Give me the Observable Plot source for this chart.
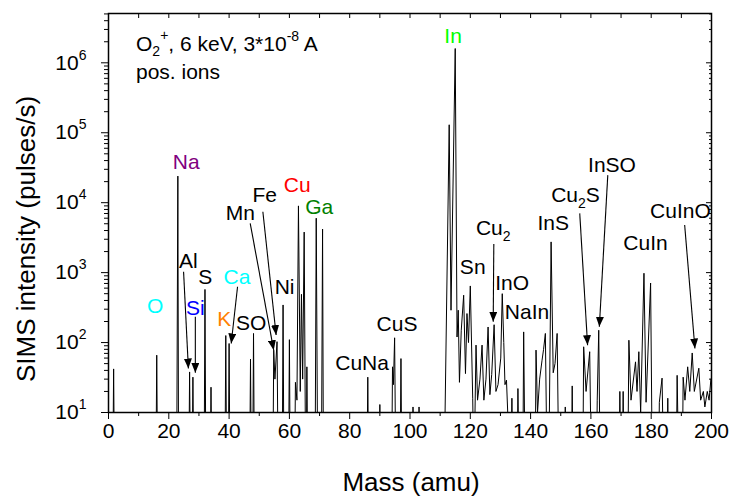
<!DOCTYPE html>
<html><head><meta charset="utf-8">
<script src="https://cdn.jsdelivr.net/npm/d3@7"></script>
<script src="https://cdn.jsdelivr.net/npm/@observablehq/plot@0.6"></script>
<style>
body{margin:0;background:#fff}
#chart svg{font-family:"Liberation Sans",Arial,sans-serif;background:#fff}
</style></head><body><div id="chart"></div>
<script>
// Spectrum trace (mass in amu, intensity in pulses/s; 1 = below the axis floor)
const mass = [
1.4,1.7,2.0, 15.7,16.0,16.3, 22.6,23.0,23.25, 26.6,26.9,27.2, 27.7,28.0,28.3,
31.7,32.0,32.3, 33.7,34.0,34.3, 38.6,38.9,39.2, 39.7,40.0,40.3, 46.8,47.1,47.4,
47.8,48.1,48.4, 54.5,54.8,55.2,55.9,56.3, 57.6,57.9,58.2, 59.7,60.0,60.3,
61.7,62.0,62.5,63.0,63.6,64.0,64.4,64.9,65.4,65.6,65.8,66.1,
68.5,68.9,69.4, 70.6,71.0,71.3, 85.7,86.0,86.3, 89.7,90.0,90.3,
93.9,94.2,94.5,94.9,95.3, 96.7,97.0,97.3, 100.7,101.0,101.3, 102.7,103.0,103.3,
111.3,113.0,113.6,115.0,115.6,116.0,116.4,117.0,117.8,118.4,118.9,119.4,120.0,120.8,121.2,
121.9,122.4,123.2,123.9,124.5,125.2,125.9,126.5,127.1,127.9,128.5,129.2,130.1,130.6,131.1,
131.5,132.0,132.5,133.4,133.8,134.2,135.5,135.8,136.2,137.4,137.7,138.2,141.5,141.8,142.3,
143.0,143.8,144.3,144.9,145.5,146.0,146.8,147.5,148.1,148.8,149.4,151.2,151.5,151.8,153.5,
153.8,154.1,157.3,157.6,158.4,159.6,160.2,161.8,162.1,162.6,163.1,169.3,169.6,170.0,170.4,
170.7,171.0,172.2,172.6,173.3,174.8,175.3,175.9,176.5,177.6,178.3,179.8,180.4,182.4,182.7,
183.6,184.2,185.2,185.5,185.8,188.3,188.6,189.2,190.3,190.6,191.2,192.1,192.8,193.6,194.3,
195.8,196.4,197.3,197.8,198.6,199.2,199.8
];
const counts = [
1,42,1, 1,66,1, 1,24000,1, 1,38,1, 1,32,1,
1,575,1, 1,23,1, 1,126,1, 1,97,1, 1,58,1,
1,135,1, 1,78,30,103,1, 1,345,1, 1,110,1,
1,27,15,9000,20,490,30,3800,1,1,45,1,
1,6000,1, 1,4200,1, 1,32,1, 1,13,1,
1,45,25,117,1, 1,59,1, 1,12,1, 1,12,1,
1,130000,290,1600000,120,290,27,150,475,36,260,100,645,16,1,
92,15,30,92,15,30,167,18,35,180,20,25,60,500,100,
25,29,8,1,16,1,1,22,1,1,142,1,1,78,10,
30,56,80,135,1,1,2750,37,50,135,1,1,12,1,1,
24,1,1,87,20,74,1,1,15,150,1,1,20,1,1,
20,1,1,108,15,53,20,74,10,980,14,710,1,1,14,
31,1,1,16,1,1,34,1,1,32,15,45,20,71,20,
43,15,20,12,20,15,30
];

// Peak labels (text, anchor mass, anchor intensity, colour)
const labels = ["O","Na","Al","S","Si","Ca","K","SO","Mn","Fe","Ni","Cu","Ga","In",
  "CuNa","CuS","Sn","Cu\u2082","InO","NaIn","InS","Cu\u2082S","InSO","CuInO","CuIn"];
const labelMass = [15.5,25.8,26.5,32.1,28.8,42.6,38.4,47.3,43.7,51.8,58.4,62.6,69.9,114.3,
  84.1,95.7,120.8,127.6,133.9,138.8,147.5,154.9,167.0,189.7,178.1];
const labelCounts = [332,38100,1430,871,308,871,214,191,7100,12850,614,17900,8650,2360000,
  51,181,1186,4290,700,275,5150,12850,34500,7650,2620];
const labelColors = ["#00FFFF","#800080","#000","#000","#0000FF","#00FFFF","#FF8000","#000",
  "#000","#000","#000","#FF0000","#008000","#00FF00",
  "#000","#000","#000","#000","#000","#000","#000","#000","#000","#000","#000"];

// Arrows from label to peak
const arrowFromMass = [24.9,28.8,42.8,47.0,51.2,127.8,156.3,165.6,191.1];
const arrowFromCounts = [1026,233,627,5060,7410,2560,7030,24800,4790];
const arrowToMass = [26.5,28.8,40.7,54.8,55.6,127.6,158.9,162.8,194.5];
const arrowToCounts = [42.6,36.9,97,77.8,128,198,91.8,168,82.4];

// Axis ticks
const xMajor = [0,20,40,60,80,100,120,140,160,180,200];
const xMinor = [10,30,50,70,90,110,130,150,170,190];
const yMajor = [10,100,1000,10000,100000,1000000];
const yMinor = [];
for (const d of [10,100,1000,10000,100000,1000000]) for (let k = 2; k <= 9; k++) if (k*d <= 5.07e6) yMinor.push(k*d);

const spec = mass.map((m,i)=>({m, c: counts[i]}));
const annos = labels.map((t,i)=>({t, m: labelMass[i], c: labelCounts[i], col: labelColors[i]}));
const arrows = arrowFromMass.map((m,i)=>({m1: m, c1: arrowFromCounts[i], m2: arrowToMass[i], c2: arrowToCounts[i]}));

const chart = Plot.plot({
  width: 731, height: 498,
  marginLeft: 108, marginRight: 20, marginTop: 13, marginBottom: 86,
  style: {fontFamily: '"Liberation Sans", Arial, sans-serif', fontSize: "21px", background: "#fff", color: "#000", overflow: "visible"},
  x: {domain: [0, 200], label: null},
  y: {type: "log", domain: [10, 5.07e6], label: null},
  color: {type: "identity"},
  marks: [
    Plot.line(spec, {x: "m", y: "c", stroke: "#000", strokeWidth: 1, clip: true}),
    Plot.link(arrows, {x1: "m1", y1: "c1", x2: "m2", y2: "c2", stroke: "#000", strokeWidth: 1.1}),
    Plot.text(annos, {x: "m", y: "c", text: "t", fill: "col", fontSize: 21}),
    Plot.axisX({ticks: xMajor, tickSize: 7, tickPadding: 4, fontSize: 21, label: null, tickFormat: d => String(d)}),
    Plot.axisX({ticks: xMinor, tickSize: 4, tickFormat: () => "", label: null}),
    Plot.axisX({anchor: "top", ticks: xMajor.concat(xMinor), tickSize: -4, tickFormat: () => "", label: null}),
    Plot.axisY({ticks: yMajor, tickSize: 7, tickPadding: 15, fontSize: 21, label: null, tickFormat: d => "10^" + Math.round(Math.log10(d))}),
    Plot.axisY({ticks: yMinor, tickSize: 4, tickFormat: () => "", label: null}),
    Plot.axisY({anchor: "right", ticks: yMajor, tickSize: -6, tickFormat: () => "", label: null}),
    Plot.axisY({anchor: "right", ticks: yMinor, tickSize: -3, tickFormat: () => "", label: null}),
    Plot.frame({stroke: "#000", strokeWidth: 1.5})
  ]
});
document.getElementById("chart").appendChild(chart);

const svg = d3.select(chart);
// superscript powers of ten
svg.selectAll("text").each(function() {
  const m = /^10\^(\d+)$/.exec(this.textContent);
  if (m) {
    const t = d3.select(this);
    t.text("10");
    t.append("tspan").attr("dy", -10).style("font-size", "14px").text(m[1]);
  }
});
// subscripts in labels
svg.selectAll("text").each(function() {
  const s = this.textContent;
  if (s.includes("\u2082")) {
    const t = d3.select(this);
    const [a, b] = s.split("\u2082");
    t.text(a);
    t.append("tspan").attr("dy", 6).style("font-size", "14px").text("2");
    if (b) t.append("tspan").attr("dy", -6).text(b);
  }
});
// filled arrowheads
const defs = svg.append("defs");
defs.append("marker").attr("id", "ah").attr("viewBox", "0 0 10 8").attr("refX", 10).attr("refY", 4)
  .attr("markerWidth", 10).attr("markerHeight", 8).attr("markerUnits", "userSpaceOnUse").attr("orient", "auto")
  .append("path").attr("d", "M0,0L10,4L0,8Z").attr("fill", "#000");
svg.selectAll('g[aria-label="link"] path').attr("marker-end", "url(#ah)");

// condition text (top-left)
const t1 = svg.append("text").attr("x", 136).attr("y", 51).attr("text-anchor", "start").style("font-size", "21px").attr("fill", "#000");
t1.append("tspan").text("O");
t1.append("tspan").attr("dy", 5).style("font-size", "14px").text("2");
t1.append("tspan").attr("dy", -16).style("font-size", "14px").text("+");
t1.append("tspan").attr("dy", 11).text(", 6 keV, 3*10");
t1.append("tspan").attr("dy", -10).style("font-size", "14px").text("-8");
t1.append("tspan").attr("dy", 10).text(" A");
svg.append("text").attr("x", 136).attr("y", 79).attr("text-anchor", "start").style("font-size", "21px").attr("fill", "#000").text("pos. ions");

// axis titles
svg.append("text").attr("transform", "translate(35,239) rotate(-90)").attr("text-anchor", "middle")
  .style("font-size", "26px").attr("fill", "#000").text("SIMS intensity (pulses/s)");
svg.append("text").attr("x", 411).attr("y", 491).attr("text-anchor", "middle")
  .style("font-size", "26px").attr("fill", "#000").text("Mass (amu)");
</script></body></html>
